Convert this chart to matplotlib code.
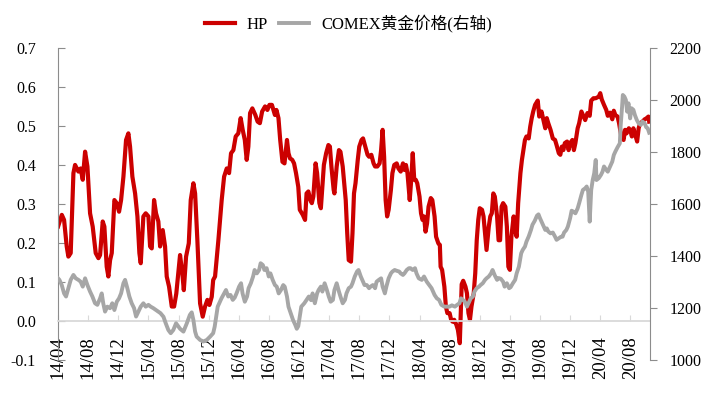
import matplotlib
matplotlib.use("Agg")
import matplotlib.pyplot as plt

plt.rcParams['font.family'] = ['Liberation Serif', 'Noto Sans CJK SC']
plt.rcParams['axes.unicode_minus'] = False

# months since 2014/04
hp_t = [0.0, 0.5, 0.8, 1.15, 1.37, 1.68, 2.04, 2.26, 2.7, 3.0, 3.28, 3.59, 3.9, 4.25, 4.6, 5.0,
        5.36, 5.58, 5.93, 6.15, 6.46, 6.68, 6.91, 7.13, 7.48, 7.79, 8.1, 8.37, 8.68, 9.03, 9.34,
        9.56, 9.87, 10.23, 10.54, 10.8, 10.98, 11.33, 11.64, 12.0, 12.22, 12.44, 12.75, 13.01,
        13.32, 13.55, 13.9, 14.21, 14.43, 14.74, 15.1, 15.41, 15.7, 16.2, 16.5, 16.7, 17.0, 17.36,
        17.62, 17.97, 18.2, 18.5, 18.86, 19.21, 19.52, 19.83, 20.1, 20.41, 20.6, 20.85, 21.29,
        21.73, 22.05, 22.4, 22.71, 22.97, 23.28, 23.59, 23.94, 24.25, 24.52, 24.8, 25.05, 25.27,
        25.5, 25.8, 26.2, 26.5, 26.8, 27.1, 27.49, 27.8, 28.07, 28.4, 28.6, 28.8, 29.0, 29.27,
        29.5, 29.8, 30.07, 30.4, 30.6, 30.8, 31.1, 31.34, 31.6, 31.9, 32.1, 32.5, 32.8, 33.0,
        33.24, 33.5, 33.7, 33.9, 34.2, 34.4, 34.7, 34.9, 35.1, 35.3, 35.6, 35.9, 36.1, 36.3,
        36.6, 36.7, 37.0, 37.3, 37.5, 37.8, 38.0, 38.2, 38.4, 38.6, 38.9, 39.1, 39.3, 39.5, 39.8,
        40.0, 40.3, 40.5, 40.8, 41.1, 41.3, 41.6, 41.9, 42.1, 42.4, 42.7, 42.9, 43.1, 43.3, 43.5,
        43.7, 43.9, 44.2, 44.4, 44.65, 44.97, 45.2, 45.5, 45.8, 46.0, 46.2, 46.4, 46.7, 46.9,
        47.1, 47.3, 47.5, 47.7, 48.0, 48.2, 48.4, 48.6, 48.8, 49.0, 49.2, 49.5, 49.7, 50.0, 50.2,
        50.5, 50.7, 50.8, 51.0, 51.3, 51.5, 51.7, 52.0, 52.2, 52.4, 52.6, 52.9, 53.1, 53.35,
        53.6, 53.8, 54.1, 54.3, 54.5, 54.7, 54.9, 55.2, 55.4, 55.6, 55.8, 56.0, 56.3, 56.5, 56.7,
        56.9, 57.2, 57.4, 57.6, 57.8, 58.0, 58.3, 58.5, 58.7, 58.9, 59.1, 59.4, 59.6, 59.8, 60.0,
        60.2, 60.5, 60.7, 60.9, 61.1, 61.4, 61.6, 61.8, 62.0, 62.2, 62.5, 62.7, 62.9, 63.1,
        63.35, 63.7, 63.9, 64.2, 64.5, 64.7, 64.9, 65.1, 65.4, 65.7, 66.0, 66.2, 66.5, 66.7,
        66.9, 67.1, 67.3, 67.6, 67.8, 68.0, 68.3, 68.5, 68.7, 69.0, 69.2, 69.5, 69.8, 70.0, 70.3,
        70.6, 70.8, 71.1, 71.4, 71.8, 72.0, 72.2, 72.5, 72.8, 73.0, 73.3, 73.6, 73.8, 74.0, 74.3,
        74.5, 74.8, 75.1, 75.3, 75.5, 75.8, 76.0, 76.2, 76.4, 76.7, 76.9, 77.1, 77.3, 77.6, 77.9,
        78.1, 78.4, 78.5]
hp_v = [0.242, 0.272, 0.259, 0.191, 0.165, 0.174, 0.379, 0.400, 0.383, 0.391, 0.362, 0.434,
        0.396, 0.276, 0.242, 0.174, 0.161, 0.169, 0.255, 0.242, 0.139, 0.114, 0.156, 0.174,
        0.310, 0.302, 0.280, 0.310, 0.370, 0.464, 0.481, 0.447, 0.370, 0.327, 0.268, 0.174,
        0.148, 0.268, 0.276, 0.268, 0.191, 0.186, 0.310, 0.276, 0.255, 0.191, 0.233, 0.191,
        0.114, 0.088, 0.037, 0.037, 0.070, 0.169, 0.122, 0.079, 0.165, 0.199, 0.310, 0.353,
        0.327, 0.207, 0.045, 0.011, 0.037, 0.054, 0.041, 0.062, 0.105, 0.114, 0.207, 0.310,
        0.370, 0.391, 0.379, 0.430, 0.438, 0.473, 0.481, 0.520, 0.490, 0.464, 0.413, 0.447,
        0.533, 0.545, 0.528, 0.511, 0.507, 0.537, 0.550, 0.541, 0.554, 0.554, 0.541, 0.528,
        0.541, 0.520, 0.464, 0.408, 0.404, 0.464, 0.430, 0.417, 0.413, 0.404, 0.379, 0.344,
        0.285, 0.272, 0.259, 0.327, 0.332, 0.310, 0.302, 0.319, 0.404, 0.379, 0.302, 0.289,
        0.344, 0.400, 0.430, 0.451, 0.447, 0.396, 0.336, 0.327, 0.396, 0.438, 0.434, 0.396,
        0.353, 0.310, 0.225, 0.156, 0.152, 0.225, 0.327, 0.353, 0.413, 0.447, 0.464, 0.468,
        0.447, 0.426, 0.421, 0.426, 0.404, 0.396, 0.396, 0.404, 0.438, 0.490, 0.421, 0.310,
        0.268, 0.285, 0.336, 0.379, 0.400, 0.404, 0.391, 0.383, 0.404, 0.387, 0.400, 0.379,
        0.310, 0.362, 0.430, 0.362, 0.362, 0.353, 0.319, 0.276, 0.259, 0.268, 0.229, 0.250,
        0.293, 0.315, 0.310, 0.268, 0.216, 0.199, 0.195, 0.139, 0.131, 0.088, 0.037, 0.020,
        0.020, 0.003, -0.002, 0.003, -0.010, -0.023, -0.057, 0.094, 0.103, 0.088, 0.071, 0.020,
        0.003, 0.037, 0.071, 0.122, 0.207, 0.259, 0.289, 0.285, 0.268, 0.225, 0.182, 0.242,
        0.268, 0.276, 0.327, 0.319, 0.268, 0.207, 0.207, 0.293, 0.302, 0.293, 0.242, 0.139,
        0.131, 0.216, 0.268, 0.233, 0.216, 0.302, 0.379, 0.413, 0.438, 0.464, 0.473, 0.468,
        0.498, 0.520, 0.537, 0.554, 0.565, 0.524, 0.537, 0.511, 0.494, 0.520, 0.507, 0.490,
        0.468, 0.464, 0.451, 0.430, 0.426, 0.447, 0.438, 0.456, 0.460, 0.438, 0.456, 0.464,
        0.438, 0.456, 0.494, 0.507, 0.537, 0.524, 0.515, 0.533, 0.526, 0.565, 0.571, 0.571,
        0.575, 0.584, 0.568, 0.554, 0.541, 0.526, 0.534, 0.517, 0.539, 0.528, 0.524, 0.507,
        0.473, 0.464, 0.490, 0.481, 0.494, 0.488, 0.473, 0.494, 0.473, 0.460, 0.494, 0.507,
        0.511, 0.517, 0.519, 0.524, 0.511]

gold_t = [0.0, 0.18, 0.49, 0.8, 1.06, 1.37, 1.68, 2.04, 2.35, 2.7, 3.0, 3.28, 3.59, 3.9, 4.25,
          4.56, 4.91, 5.22, 5.58, 5.8, 6.0, 6.24, 6.55, 6.9, 7.2, 7.48, 7.8, 8.1, 8.37, 8.68, 8.9,
          9.2, 9.47, 9.78, 10.1, 10.36, 10.67, 10.98, 11.33, 11.64, 12.0, 12.3, 12.66, 13.0, 13.3,
          13.6, 14.0, 14.3, 14.65, 14.96, 15.3, 15.67, 16.2, 16.65, 17.1, 17.5, 17.75, 17.97,
          18.2, 18.4, 18.86, 19.3, 19.75, 20.2, 20.6, 20.8, 21.0, 21.2, 21.4, 21.7, 22.05, 22.3,
          22.6, 22.9, 23.2, 23.46, 23.7, 24.04, 24.3, 24.5, 24.8, 25.1, 25.3, 25.6, 25.9, 26.1,
          26.4, 26.7, 26.9, 27.2, 27.4, 27.7, 27.98, 28.2, 28.5, 28.8, 29.04, 29.3, 29.6, 29.9,
          30.1, 30.4, 30.6, 30.9, 31.2, 31.5, 31.7, 31.9, 32.1, 32.3, 32.7, 33.0, 33.3, 33.6,
          33.8, 34.1, 34.4, 34.6, 34.9, 35.1, 35.4, 35.7, 35.95, 36.2, 36.5, 36.7, 37.0, 37.3,
          37.5, 37.8, 38.1, 38.3, 38.6, 38.9, 39.1, 39.4, 39.7, 39.9, 40.2, 40.5, 40.7, 41.0,
          41.3, 41.5, 41.8, 42.1, 42.3, 42.6, 42.9, 43.1, 43.4, 43.6, 43.9, 44.2, 44.4, 44.7,
          44.97, 45.3, 45.5, 45.8, 46.0, 46.3, 46.6, 46.8, 47.1, 47.4, 47.6, 47.9, 48.3, 48.6,
          48.96, 49.3, 49.6, 50.0, 50.3, 50.6, 50.9, 51.3, 51.6, 51.97, 52.3, 52.7, 53.0, 53.3,
          53.5, 53.7, 54.0, 54.3, 54.5, 54.8, 55.1, 55.3, 55.6, 55.9, 56.1, 56.4, 56.7, 56.9,
          57.2, 57.5, 57.7, 58.0, 58.3, 58.5, 58.8, 59.1, 59.3, 59.6, 59.9, 60.1, 60.4, 60.7,
          60.9, 61.2, 61.5, 61.7, 62.0, 62.2, 62.5, 62.8, 63.0, 63.3, 63.6, 63.8, 64.0, 64.2,
          64.5, 64.7, 64.9, 65.1, 65.4, 65.7, 66.0, 66.2, 66.5, 66.8, 67.0, 67.2, 67.5, 67.7,
          68.0, 68.2, 68.4, 68.7, 69.0, 69.2, 69.5, 69.7, 70.0, 70.2, 70.4, 70.6, 70.8, 71.0,
          71.2, 71.4, 71.5, 71.8, 72.1, 72.3, 72.5, 72.8, 73.0, 73.3, 73.6, 73.8, 74.0, 74.3,
          74.6, 74.7, 74.9, 75.0, 75.2, 75.4, 75.57, 75.75, 75.97, 76.15, 76.4, 76.6, 76.85,
          77.1, 77.4, 77.6, 77.9, 78.1, 78.3, 78.5]
gold_v = [1314, 1308, 1288, 1256, 1244, 1276, 1308, 1327, 1314, 1308, 1301, 1282, 1314, 1288,
          1263, 1244, 1218, 1212, 1237, 1256, 1218, 1186, 1205, 1199, 1218, 1192, 1224, 1237,
          1256, 1295, 1308, 1276, 1244, 1218, 1199, 1167, 1186, 1205, 1218, 1205, 1212, 1205,
          1199, 1192, 1186, 1180, 1166, 1141, 1115, 1103, 1115, 1141, 1120, 1109, 1141, 1173,
          1183, 1154, 1109, 1090, 1077, 1071, 1077, 1090, 1103, 1128, 1167, 1205, 1218, 1237,
          1256, 1269, 1244, 1250, 1231, 1240, 1256, 1282, 1295, 1256, 1224, 1244, 1276, 1295,
          1321, 1346, 1333, 1346, 1372, 1365, 1346, 1353, 1321, 1333, 1308, 1288, 1282, 1256,
          1269, 1288, 1282, 1244, 1205, 1180, 1154, 1135, 1120, 1130, 1167, 1205, 1218, 1231,
          1244, 1230, 1256, 1218, 1256, 1269, 1282, 1263, 1295, 1269, 1244, 1224, 1231, 1269,
          1295, 1263, 1244, 1218, 1231, 1256, 1276, 1282, 1295, 1321, 1340, 1346, 1321, 1301,
          1288, 1288, 1276, 1282, 1288, 1276, 1301, 1308, 1314, 1282, 1256, 1282, 1314, 1333,
          1340, 1346, 1343, 1340, 1333, 1327, 1333, 1346, 1353, 1353, 1346, 1353, 1333, 1314,
          1308, 1321, 1301, 1288, 1276, 1250, 1237, 1231, 1212, 1205, 1205, 1205, 1210, 1205,
          1212, 1218, 1237, 1232, 1225, 1205, 1218, 1237, 1244, 1263, 1276, 1282, 1288, 1295,
          1308, 1314, 1321, 1333, 1346, 1325, 1308, 1315, 1312, 1301, 1282, 1295, 1276, 1280,
          1295, 1308, 1333, 1359, 1410, 1423, 1436, 1455, 1475, 1500, 1520, 1535, 1555, 1560,
          1545, 1532, 1513, 1500, 1506, 1494, 1487, 1490, 1474, 1462, 1468, 1474, 1474, 1490,
          1500, 1513, 1545, 1574, 1571, 1564, 1583, 1603, 1635, 1654, 1660, 1667, 1647, 1532,
          1654, 1692, 1718, 1769, 1692, 1699, 1712, 1724, 1744, 1731, 1724, 1744, 1763, 1788,
          1801, 1818, 1833, 1897, 1974, 2019, 2013, 2000, 1955, 1987, 1929, 1968, 1962, 1942,
          1923, 1910, 1904, 1917, 1910, 1895, 1891, 1874]

tick_pos = list(range(0, 77, 4))
tick_labels = ['14/04', '14/08', '14/12', '15/04', '15/08', '15/12', '16/04', '16/08', '16/12',
               '17/04', '17/08', '17/12', '18/04', '18/08', '18/12', '19/04', '19/08', '19/12',
               '20/04', '20/08']

red = '#CC0000'
grey = '#A6A6A6'
axis_grey = '#8C8C8C'

fig = plt.figure(figsize=(7.08, 3.96), dpi=100)
ax = fig.add_axes([0.082, 0.091, 0.836, 0.788])
ax2 = ax.twinx()

# spine position first, it resets the ticks
for s in ['top', 'right']:
    ax.spines[s].set_visible(False)
for s in ['top', 'left', 'bottom']:
    ax2.spines[s].set_visible(False)
ax.spines['bottom'].set_position(('data', 0))
ax.spines['bottom'].set_color('#D9D9D9')
ax.spines['bottom'].set_linewidth(1.3)
ax.spines['left'].set_color(axis_grey)
ax2.spines['right'].set_color(axis_grey)

l1, = ax.plot(hp_t, hp_v, color=red, lw=3.0, solid_joinstyle='round', label='HP')
l2, = ax2.plot(gold_t, gold_v, color=grey, lw=2.8, solid_joinstyle='round',
               label='COMEX黄金价格(右轴)')

ax.set_xlim(0, 78.6)
ax.set_ylim(-0.1, 0.7)
ax.set_yticks([-0.1, 0.0, 0.1, 0.2, 0.3, 0.4, 0.5, 0.6, 0.7])
ax.set_yticklabels(['%.1f' % v for v in ax.get_yticks()])
ax2.set_ylim(1000, 2200)
ax2.set_yticks(range(1000, 2201, 200))

ax.set_xticks(tick_pos)
ax.set_xticklabels(tick_labels)

ax.tick_params(axis='x', direction='in', length=4, color='#D9D9D9', pad=11,
               labelrotation=90, labelsize=13.5)
ax.tick_params(axis='y', direction='in', length=5, color=axis_grey, labelsize=11.5, pad=16)
ax2.tick_params(axis='y', direction='out', length=5, color=axis_grey, labelsize=11.5, pad=9)

fig.legend(handles=[l1, l2], loc='center', bbox_to_anchor=(0.492, 0.94), ncol=2,
           frameon=False, fontsize=12, handlelength=1.8, handletextpad=0.7,
           columnspacing=0.7)

fig.savefig('out.png', dpi=100)
